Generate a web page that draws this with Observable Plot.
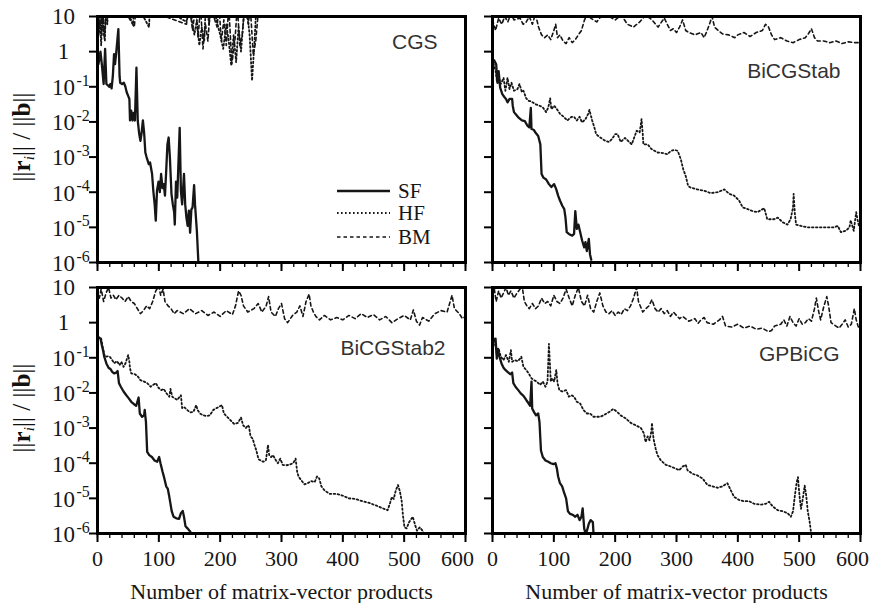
<!DOCTYPE html>
<html>
<head>
<meta charset="utf-8">
<script src="https://cdn.jsdelivr.net/npm/d3@7"></script>
<script src="https://cdn.jsdelivr.net/npm/@observablehq/plot@0.6"></script>
<style>
  body { margin: 0; background: #fff; }
  #root { position: relative; width: 873px; height: 603px; background: #fff; overflow: hidden; }
  .panel { position: absolute; }
  .ylab { position: absolute; font-family: 'Liberation Serif', serif; font-size: 25px; white-space: nowrap;
          transform: translate(-50%, -50%) rotate(-90deg); color: #111; }
  .ylab sub { font-size: 0.62em; vertical-align: -0.3em; }
</style>
</head>
<body>
<div id="root"></div>
<script>
// ---------- tick labels ----------
const xMajor = [0, 100, 200, 300, 400, 500, 600];
const xMajorLabels = ["0", "100", "200", "300", "400", "500", "600"];
const xMinor = [0,20,40,60,80,100,120,140,160,180,200,220,240,260,280,300,320,340,360,380,400,420,440,460,480,500,520,540,560,580,600];
const yTicks = [10, 1, 1e-1, 1e-2, 1e-3, 1e-4, 1e-5, 1e-6];
const yTickBase = ["10", "1", "10", "10", "10", "10", "10", "10"];
const yTickExp  = ["", "", "-1", "-2", "-3", "-4", "-5", "-6"];
const seriesNames = ["SF", "HF", "BM"];
const panelNames = ["CGS", "BiCGStab", "BiCGStab2", "GPBiCG"];
const xTitle = "Number of matrix-vector products";

// ---------- data: [matrix-vector products, ||r_i||/||b||] ----------
const cgsSF = [[0,1.0],[1.6,0.44],[4.8,1.0],[7,0.45],[10,0.12],[12.4,1.2],[14.5,0.12],[17,0.11],[19,0.1],[21,0.12],[23,0.09],[25,0.2],[27,0.85],[28.6,0.44],[30.7,1.0],[34,4.4],[36,0.2],[37,0.13],[40,0.12],[43,0.13],[45.5,0.1],[47.6,0.07],[50,0.055],[52,0.045],[53,0.011],[55,0.021],[57,0.011],[59,0.018],[61,0.011],[63.5,0.35],[65.6,0.011],[68,0.0045],[70,0.0029],[72,0.005],[74,0.011],[76,0.005],[78,0.00135],[80,0.001],[83.6,6.3e-4],[85.7,7e-4],[89,3.3e-4],[91,1.1e-4],[93,5e-5],[95,1.55e-5],[97,1.1e-4],[99.5,2e-4],[101.6,1e-4],[103.7,3.3e-4],[106,1.3e-4],[108,1.7e-4],[110,8e-5],[112,4e-4],[114,2.3e-3],[116,3.6e-3],[118,1e-3],[120.6,9e-5],[122.8,4.5e-5],[125,2.7e-5],[126,1.2e-5],[128,2e-4],[130,7e-5],[134,6.8e-3],[136,1.1e-4],[138,4.5e-5],[141,3.3e-4],[143,4.5e-5],[145,1.9e-5],[147,1.1e-5],[149,3e-5],[151,7e-6],[153,3.2e-5],[155,3.7e-5],[157.5,1.6e-4],[159,4.5e-5],[162,8e-6],[164.5,1e-6]];
const cgsHF = [[0,12],[2,3],[4,8],[6,1.5],[8,25],[10,4],[12,2],[14,30],[16,6],[18,30],[40,30],[58,6],[60,30],[84,5],[86,30],[145,7],[148,30],[158,3],[162,8],[166,1.5],[170,5],[174,2],[177,30],[182,6],[186,30],[200,3],[205,1.2],[210,6],[214,2],[218,0.4],[222,3],[226,0.5],[230,5],[234,1],[238,8],[242,30],[248,3],[252,0.15],[256,2],[260,40],[600,40]];
const cgsBM = [[0,10],[3,5],[5,20],[7,3],[9,20],[11,2.5],[13,6],[15,20],[40,20],[60,5],[63,20],[145,6],[150,20],[155,4],[160,20],[164,2.5],[168,20],[172,1.2],[176,6],[180,2],[184,20],[195,5],[198,20],[202,2],[206,8],[210,1.5],[214,20],[219,0.45],[224,2],[228,20],[232,1.5],[236,3],[240,20],[246,6],[249,20],[254,0.8],[258,2],[263,20],[600,20]];

const stabSF = [[0,0.6],[2.7,0.57],[6,0.44],[8,0.13],[10,0.28],[12.5,0.095],[16,0.062],[19,0.052],[22,0.045],[24.5,0.036],[27.7,0.045],[32,0.045],[33,0.029],[35,0.019],[38.6,0.016],[43,0.013],[48,0.011],[52.7,0.0105],[57,0.0078],[60,0.007],[62.5,0.025],[63.6,0.0063],[67,0.006],[70,0.005],[74.5,0.004],[78,0.0023],[80,3.3e-4],[83,2.6e-4],[87.5,2.3e-4],[92,1.7e-4],[96,1.4e-4],[100.5,1.7e-4],[104,1.2e-4],[107,8e-5],[110,5.8e-5],[113.6,4.2e-5],[117,3.3e-5],[119,1.9e-5],[121,7.3e-6],[124.5,6.5e-6],[130,5.8e-6],[133,6.5e-6],[135,2.9e-5],[137.5,9e-6],[140,1.2e-5],[143,7.3e-6],[146,4.3e-6],[149.5,2.7e-6],[151.6,3.8e-6],[153.8,2.1e-6],[157,4.7e-6],[159,1.7e-6],[161,1.2e-6]];
const stabHF = [[0,0.6],[5,0.28],[7,0.15],[10,0.19],[13.6,0.12],[18,0.18],[21,0.077],[24.5,0.18],[27.7,0.086],[31,0.13],[35,0.077],[40.7,0.086],[44,0.12],[48,0.07],[50.5,0.077],[55,0.047],[59,0.04],[63.6,0.038],[70,0.032],[76.6,0.029],[82,0.026],[87.5,0.019],[91,0.026],[94,0.047],[96,0.023],[100.5,0.029],[105,0.023],[110,0.017],[116,0.014],[122,0.011],[129,0.014],[133,0.014],[137.5,0.011],[142,0.014],[146,0.0097],[151.6,0.012],[156,0.017],[158,0.022],[162.5,0.011],[166,0.007],[169,0.0045],[173,0.0039],[179,0.0033],[184,0.0029],[190,0.0027],[195,0.0033],[200,0.0045],[204,0.0045],[209,0.0027],[216,0.0035],[221,0.0029],[227,0.0023],[232,0.004],[235,0.0056],[240,0.005],[243,0.012],[245,0.0045],[246,0.0023],[253,0.0023],[259,0.0017],[269,0.00135],[278,0.0013],[285,0.0012],[291,0.0015],[297,0.0016],[302,0.0015],[307,8.7e-4],[311,4.5e-4],[315,2.9e-4],[319,1.5e-4],[323,1.35e-4],[334,1.2e-4],[345,1.1e-4],[356,9.4e-5],[367,1e-4],[378,1.2e-4],[386,9e-5],[394,8e-5],[402,5.8e-5],[408,3.7e-5],[416,3.3e-5],[424,2.9e-5],[432,2.7e-5],[443,3.5e-5],[448,1.7e-5],[459,1.7e-5],[465,1.9e-5],[473,1.4e-5],[481,1.2e-5],[486,1.7e-5],[490,3.7e-5],[491,9e-5],[493,2.4e-5],[495,1.2e-5],[503,1.1e-5],[514,1e-5],[524,1e-5],[535,1e-5],[546,1e-5],[557,1e-5],[563,1.1e-5],[568,7.3e-6],[576,8e-6],[582,1e-5],[584,1.6e-5],[589,8e-6],[593,2.7e-5],[595,1.7e-5],[598,1e-5]];
const stabBM = [[0,8],[5,4],[10,9],[15,6],[20,10],[25,7],[30,12],[35,8],[45,9],[50,6],[55,7],[60,10],[65,6],[70,12],[75,5],[80,3],[85,2.5],[90,3],[95,2.2],[100,4],[103,6],[106,2.5],[110,3],[115,2],[120,1.7],[125,2.5],[130,1.8],[135,2.2],[140,3],[145,4],[150,8],[155,12],[160,9],[170,7],[180,12],[190,10],[200,8],[210,11],[220,6],[230,5],[240,7],[250,11],[260,8],[270,5],[280,9],[285,6],[290,4],[295,4.5],[300,3.5],[305,5],[310,8],[315,4],[320,3.5],[330,3],[340,3.5],[345,2.5],[350,4],[355,7],[358,10],[362,5],[368,4],[375,3.2],[385,3],[395,2.5],[400,3],[410,3.5],[420,2.7],[430,3.5],[440,4],[445,6],[450,5],[455,3],[460,2.2],[470,2.5],[480,2],[490,1.8],[500,2.2],[510,2.5],[515,3.2],[520,4.5],[525,2.5],[530,2],[540,2],[550,1.8],[560,2],[570,1.7],[580,1.9],[590,1.8],[600,1.8]];

const stab2SF = [[0,0.4],[5,0.35],[7,0.23],[9,0.165],[11,0.107],[14.5,0.069],[18,0.052],[21,0.048],[24,0.04],[27,0.036],[30.6,0.038],[32.8,0.042],[35,0.019],[38,0.015],[42.5,0.011],[47,0.0086],[51,0.007],[55,0.0056],[60,0.0047],[63,0.0043],[65,0.0056],[67,0.0074],[69,0.0026],[72.6,0.0021],[76,0.0023],[77,0.0033],[79,0.0015],[81,2.1e-4],[84.4,1.7e-4],[88.7,1.5e-4],[93,1.2e-4],[97.3,1.1e-4],[100.5,1.5e-4],[102.7,1e-4],[106,5.8e-5],[109,3.7e-5],[112,2.2e-5],[114.5,1.9e-5],[116.7,1.2e-5],[118.8,7.3e-6],[121,4.3e-6],[124,3e-6],[128.5,2.7e-6],[133,2.6e-6],[136,3.8e-6],[139,4.4e-6],[141,3e-6],[143.5,1.6e-6],[146.7,1.4e-6],[150,1.2e-6],[153,1e-6]];
const stab2HF = [[0,0.4],[6,0.35],[9,0.18],[12,0.107],[16.7,0.11],[20,0.107],[24,0.086],[27,0.07],[31.7,0.08],[36,0.062],[39,0.077],[42.5,0.055],[45.7,0.07],[50,0.12],[52,0.077],[53,0.05],[55,0.036],[61,0.034],[66,0.029],[70,0.023],[76,0.021],[81,0.019],[86.6,0.015],[91,0.017],[95,0.019],[99.5,0.014],[104,0.012],[108,0.013],[112,0.01],[117,0.0078],[119,0.013],[122,0.0078],[126,0.007],[130,0.0063],[133,0.0074],[136,0.0086],[138,0.0037],[141,0.004],[146,0.0033],[151,0.0028],[156.5,0.0029],[161,0.0045],[163,0.0033],[167,0.0026],[172.6,0.0023],[178,0.0022],[183,0.0023],[189,0.0033],[194,0.0037],[198,0.004],[203,0.0045],[206,0.0026],[215,0.0018],[223,0.0013],[229,0.0014],[234,0.002],[237.5,0.0012],[242,1e-3],[245,0.0012],[247,0.0011],[249.5,5.8e-4],[253,5e-4],[256,3.3e-4],[259,2.3e-4],[262.5,1.3e-4],[266,1.2e-4],[270,1.1e-4],[274.5,1.2e-4],[278,3.3e-4],[280,1.7e-4],[283,1.5e-4],[286,1.7e-4],[291,1.2e-4],[294,1e-4],[298,1.35e-4],[302,9e-5],[307,8.7e-5],[312.5,9e-5],[319,1e-4],[323,1.35e-4],[325.5,5.8e-5],[327.7,4.2e-5],[332,3.3e-5],[337.5,2.5e-5],[343,2.7e-5],[348,3.1e-5],[354,2.9e-5],[358,4.2e-5],[361.5,3.7e-5],[365,2.2e-5],[370,1.7e-5],[378,1.35e-5],[389,1.35e-5],[399.5,1.2e-5],[410,1e-5],[421,9.6e-6],[432,8.3e-6],[443,7.4e-6],[454,6.3e-6],[465,5.2e-6],[473,4.6e-6],[477,7.4e-6],[480,1.1e-5],[483,9.6e-6],[486.4,1.7e-5],[490,2.4e-5],[493,1.6e-5],[496,8.3e-6],[498,3.3e-6],[500.5,1.5e-6],[504,1.4e-6],[508,2.1e-6],[514,3e-6],[518,1.7e-6],[521,1.2e-6],[525.5,1.5e-6],[530,1.2e-6],[534,9e-7]];
const stab2BM = [[0,8],[3,5],[6,9],[10,4],[14,7],[18,10],[22,5],[26,6],[30,4.5],[35,6],[40,5],[45,4],[50,5.5],[55,4],[60,3.5],[65,2.5],[70,1.8],[75,2.2],[80,3],[85,2.5],[90,4],[95,8],[100,11],[103,6],[107,9],[110,4],[115,3],[120,2.5],[125,1.8],[130,2.2],[140,1.8],[150,2.5],[160,1.8],[170,2.2],[180,1.6],[190,2],[200,1.5],[210,2.2],[220,1.7],[225,3],[230,8],[234,6],[238,3],[245,2],[255,2.5],[262,3.5],[268,2],[275,3],[279,5.5],[283,2],[290,1.5],[295,2.5],[300,3.5],[305,1.3],[310,1],[318,1.6],[325,2],[330,3],[335,1.5],[340,4],[345,6.5],[348,3],[352,2],[356,1.5],[362,1.2],[370,1.6],[380,1.2],[390,1.4],[400,1.2],[410,1.6],[420,1.3],[430,1.8],[440,1.4],[450,1.7],[460,1.2],[470,1.5],[480,1],[490,1.3],[500,1.6],[510,1.2],[515,2.3],[520,1.1],[525,0.85],[530,1.4],[540,1.1],[550,1.8],[560,2.2],[570,2],[578,6],[582,2.5],[590,1.8],[595,1.3],[600,1.5]];

const gpSF = [[0,0.4],[2.7,0.32],[5,0.35],[7,0.095],[9,0.18],[11.4,0.107],[14.7,0.069],[18,0.052],[21,0.045],[24.5,0.04],[29,0.034],[32,0.038],[34,0.019],[37.5,0.015],[42,0.012],[46,0.0097],[50.5,0.0083],[55,0.0063],[59,0.005],[61.4,0.0043],[63.6,0.021],[64.7,0.0036],[68,0.0028],[71,0.0023],[74.5,0.0026],[76.6,0.0015],[79,2.3e-4],[82,1.5e-4],[86.4,1.2e-4],[91,1.1e-4],[95,1e-4],[99.5,9.4e-5],[102.7,1e-4],[105,7e-5],[107,4.2e-5],[110,2.7e-5],[113.6,2.2e-5],[117,1.4e-5],[120,1e-5],[123,4.3e-6],[126.6,3.6e-6],[131,3.4e-6],[135,3e-6],[138.6,3.4e-6],[142,2.4e-6],[145,3e-6],[147,5.2e-6],[149.5,1.4e-6],[151.6,1e-6],[154,1.2e-6],[157,1.9e-6],[160,2.4e-6],[163.6,2.1e-6],[164.7,1e-6]];
const gpHF = [[0,0.4],[4,0.25],[7,0.13],[10,0.18],[13.6,0.107],[18,0.086],[22,0.12],[26.6,0.077],[30,0.165],[32,0.077],[36,0.086],[41,0.08],[44,0.09],[47,0.107],[50.5,0.055],[55,0.045],[59,0.036],[63.6,0.026],[68,0.023],[72,0.021],[77.7,0.017],[82,0.021],[86.4,0.015],[89.7,0.021],[92,0.25],[94,0.05],[95,0.021],[97,0.026],[100.5,0.021],[104,0.045],[106,0.019],[109,0.012],[113.6,0.011],[120,0.012],[124.5,0.0078],[129,0.0086],[133,0.0078],[137.5,0.0056],[143,0.005],[148,0.0033],[154,0.0026],[159,0.0026],[164.7,0.0021],[170,0.0021],[175.5,0.0021],[181,0.0023],[186,0.0026],[192,0.003],[197,0.0035],[204,0.0028],[209,0.0023],[217,0.0019],[225.5,0.0014],[233.7,0.0012],[242,1e-3],[247,7e-4],[249.5,4e-4],[253,5.8e-4],[256,4.5e-4],[259,8e-4],[260,0.0014],[262.5,5e-4],[266,2.6e-4],[269,1.7e-4],[274.5,1.2e-4],[282.6,9e-5],[291,8e-5],[299,7e-5],[304.3,6.3e-5],[310,8e-5],[315,9e-5],[318,6.3e-5],[326,5e-5],[334,4.5e-5],[342.4,3.7e-5],[350.5,2.4e-5],[358.7,2.2e-5],[367,2e-5],[375,2.2e-5],[383,2.7e-5],[388.5,1.7e-5],[394,1.1e-5],[402,9e-6],[410,8.3e-6],[418.5,8.3e-6],[426.6,7e-6],[437.5,6.6e-6],[445.6,7e-6],[451,8e-6],[456.5,6e-6],[465,4.6e-6],[473,4.3e-6],[481,3.8e-6],[486.4,3e-6],[490,4.3e-6],[493,1.2e-5],[496,2.9e-5],[498,4e-5],[500.5,1.2e-5],[503,5e-6],[506,1e-5],[509,2.3e-5],[511.5,1.2e-5],[514,4.3e-6],[517,2.2e-6],[519,1.2e-6],[520,8e-7]];
const gpBM = [[0,6],[3,9],[6,4],[10,8],[14,5],[18,7],[22,10],[26,6],[30,8],[35,5],[40,7],[45,9],[48,12],[52,4],[56,3],[60,2.5],[65,3.5],[70,2.5],[75,3],[80,5],[85,3.5],[90,4],[95,3],[100,6],[105,4],[110,3.5],[115,5],[120,9],[125,5],[130,3],[135,6],[140,10],[145,4],[150,3],[155,6],[160,2.5],[165,2],[170,4],[175,7],[180,3],[185,2],[190,1.8],[195,2.2],[200,1.6],[205,2],[210,1.7],[215,2.5],[220,2.2],[225,3],[230,5],[235,10],[238,4],[245,2],[250,2.5],[255,3],[260,4.5],[265,2.5],[270,2],[275,2.5],[280,1.8],[285,2.2],[290,1.5],[295,2],[300,1.6],[305,1.3],[310,1.5],[320,1.1],[330,1.3],[335,0.95],[340,1.2],[345,1.4],[350,1],[360,0.9],[370,1.2],[375,1.5],[380,0.8],[390,0.75],[400,0.9],[410,0.7],[420,0.8],[430,0.65],[440,0.7],[450,0.55],[455,0.6],[460,0.8],[470,0.9],[475,1.2],[480,0.8],[485,1.5],[490,1],[495,0.8],[500,1.3],[505,0.9],[510,1],[515,1.3],[520,1.1],[525,2.5],[528,5],[532,2],[535,1.2],[540,2.8],[545,5.5],[548,3],[552,1],[560,0.8],[565,0.7],[570,0.9],[575,1.2],[580,0.75],[585,0.9],[590,2.5],[593,1.2],[596,0.8],[600,0.6]];

// ---------- styles ----------
const INK = "#161616";
const SERIF = "'Liberation Serif', 'Times New Roman', serif";
const SANS = "'Liberation Sans', Arial, sans-serif";
const lineStyles = {
  SF: {strokeWidth: 2.3, strokeDasharray: null},
  HF: {strokeWidth: 1.8, strokeDasharray: "1.6,2.4"},
  BM: {strokeWidth: 1.6, strokeDasharray: "3.5,3"}
};

const panels = [
  {left: 0,   top: 0,   width: 470, height: 290, mL: 97, mR: 5,  mB: 28, name: panelNames[0], ldx: -28, ldy: 26, series: [cgsSF, cgsHF, cgsBM], showX: false, showY: true},
  {left: 470, top: 0,   width: 403, height: 290, mL: 22, mR: 13, mB: 28, name: panelNames[1], ldx: -20, ldy: 55, series: [stabSF, stabHF, stabBM], showX: false, showY: false},
  {left: 0,   top: 271, width: 470, height: 332, mL: 97, mR: 5,  mB: 70, name: panelNames[2], ldx: -20, ldy: 61, series: [stab2SF, stab2HF, stab2BM], showX: true, showY: true},
  {left: 470, top: 271, width: 403, height: 332, mL: 22, mR: 13, mB: 70, name: panelNames[3], ldx: -21, ldy: 67, series: [gpSF, gpHF, gpBM], showX: true, showY: false}
];

const root = document.getElementById("root");

for (const p of panels) {
  const marks = [];
  p.series.forEach((data, k) => {
    const st = lineStyles[seriesNames[k]];
    marks.push(Plot.line(data, {
      x: d => d[0], y: d => d[1], stroke: INK, strokeWidth: st.strokeWidth,
      strokeDasharray: st.strokeDasharray, strokeLinejoin: "round", clip: true
    }));
  });
  marks.push(Plot.frame({stroke: "#000", strokeWidth: 3}));
  marks.push(Plot.axisX({ticks: xMajor, tickSize: 9, stroke: "#000", strokeWidth: 2,
    label: null, tickFormat: () => ""}));
  marks.push(Plot.axisX({ticks: xMinor, tickSize: 5, stroke: "#000", strokeWidth: 1.3,
    label: null, tickFormat: () => ""}));
  marks.push(Plot.axisY({ticks: yTicks, tickSize: 8, stroke: "#000", strokeWidth: 2,
    label: null, tickFormat: () => ""}));
  if (p.showX) {
    const inner = xMajor.slice(0, -1), last = xMajor.slice(-1);
    marks.push(Plot.text(inner, {x: d => d, frameAnchor: "bottom", dy: 25, lineAnchor: "middle",
      text: d => xMajorLabels[xMajor.indexOf(d)], fontSize: 22, fontFamily: SERIF, fill: INK}));
    marks.push(Plot.text(last, {x: d => d, frameAnchor: "bottom", dy: 25, dx: -8, lineAnchor: "middle",
      text: d => xMajorLabels[xMajor.indexOf(d)], fontSize: 22, fontFamily: SERIF, fill: INK}));
    marks.push(Plot.text([xTitle], {frameAnchor: "bottom", dy: 58, lineAnchor: "middle",
      fontFamily: SERIF, fontSize: 22, fill: INK}));
  }
  if (p.showY) {
    const plain = yTicks.filter((d, i) => yTickExp[i] === "");
    const expo = yTicks.filter((d, i) => yTickExp[i] !== "");
    marks.push(Plot.text(plain, {y: d => d, frameAnchor: "left", dx: -34, textAnchor: "middle",
      text: d => yTickBase[yTicks.indexOf(d)], fontSize: 23, fontFamily: SERIF, fill: INK}));
    marks.push(Plot.text(expo, {y: d => d, frameAnchor: "left", dx: -34, dy: 1, textAnchor: "middle",
      text: d => yTickBase[yTicks.indexOf(d)], fontSize: 23, fontFamily: SERIF, fill: INK}));
    marks.push(Plot.text(expo, {y: d => d, frameAnchor: "left", dx: -21, dy: -6, textAnchor: "start",
      text: d => yTickExp[yTicks.indexOf(d)], fontSize: 16, fontFamily: SERIF, fill: INK}));
  }
  marks.push(Plot.text([p.name], {frameAnchor: "top-right", dx: p.ldx, dy: p.ldy, lineAnchor: "middle",
    textAnchor: "end", fontFamily: SANS, fontSize: 21, fill: "#333"}));
  const chart = Plot.plot({
    width: p.width, height: p.height,
    marginLeft: p.mL, marginRight: p.mR, marginTop: 16, marginBottom: p.mB,
    x: {domain: [0, 600]},
    y: {type: "log", domain: [1e-6, 10]},
    style: {fontFamily: SERIF, fontSize: "22px", background: "transparent", overflow: "visible", color: "#000"},
    marks
  });
  const wrap = document.createElement("div");
  wrap.className = "panel";
  wrap.style.left = p.left + "px";
  wrap.style.top = p.top + "px";
  wrap.appendChild(chart);
  root.appendChild(wrap);
}

// y-axis titles
for (const cy of [137, 408]) {
  const d = document.createElement("div");
  d.className = "ylab";
  d.style.left = "23px";
  d.style.top = cy + "px";
  d.innerHTML = "||<b>r</b><sub><i>i</i></sub>|| / ||<b>b</b>||";
  root.appendChild(d);
}

// legend (inside the CGS panel)
const leg = d3.select(root).append("svg")
  .attr("width", 873).attr("height", 603)
  .style("position", "absolute").style("left", 0).style("top", 0).style("pointer-events", "none");
const legY = [191, 213, 237];
seriesNames.forEach((name, k) => {
  const st = lineStyles[name];
  leg.append("line").attr("x1", 337).attr("x2", 390).attr("y1", legY[k]).attr("y2", legY[k])
    .attr("stroke", INK).attr("stroke-width", st.strokeWidth)
    .attr("stroke-dasharray", st.strokeDasharray);
  leg.append("text").attr("x", 398).attr("y", legY[k]).attr("dy", "0.35em")
    .attr("font-family", SERIF).attr("font-size", 21).attr("fill", INK).text(name);
});
</script>
</body>
</html>
